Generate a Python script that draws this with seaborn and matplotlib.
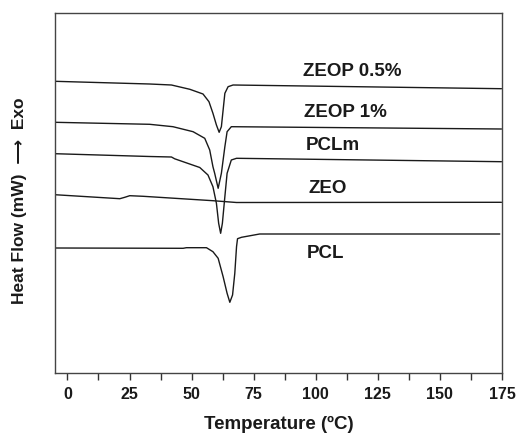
import matplotlib
matplotlib.use("Agg")
import matplotlib.pyplot as plt
import seaborn as sns
import pandas as pd
from matplotlib.ticker import MultipleLocator

# ---- data (temperature in degC, heat flow in arbitrary offset units) ----
zeop05_t = [-5.1, 33.1, 41.9, 49.3, 54.6, 57.0, 58.6, 60.0, 61.1, 62.0, 62.7, 63.4, 64.7, 66.7, 174.8]
zeop05_v = [291.7, 289.0, 288.0, 283.7, 279.0, 271.3, 259.7, 248.0, 240.7, 246.3, 263.0, 279.7, 286.3, 288.0, 284.3]

zeop1_t = [-5.1, 33.1, 42.5, 50.6, 55.3, 57.3, 58.6, 59.3, 60.7, 62.0, 63.4, 64.3, 66.0, 174.8]
zeop1_v = [250.7, 248.7, 246.3, 241.3, 234.7, 223.0, 206.3, 199.7, 184.7, 199.7, 226.3, 241.3, 246.3, 244.0]

pclm_t = [-5.1, 33.1, 41.9, 43.2, 53.3, 56.6, 58.6, 60.0, 60.9, 61.7, 62.4, 63.4, 64.3, 66.0, 68.1, 174.8]
pclm_v = [219.3, 216.5, 216.0, 214.2, 205.5, 198.0, 186.3, 169.7, 149.7, 139.7, 149.7, 176.3, 199.7, 213.0, 214.7, 211.3]

zeo_t = [-5.1, 21.1, 23.1, 25.1, 30.5, 58.6, 68.1, 174.8]
zeo_v = [178.3, 174.3, 175.7, 177.3, 176.7, 172.3, 170.5, 170.7]

pcl_t = [-5.1, 46.6, 47.9, 56.0, 58.6, 60.7, 62.7, 64.3, 65.4, 66.5, 67.4, 68.1, 68.5, 70.1, 77.4, 174.1]
pcl_v = [125.0, 124.7, 125.3, 125.3, 121.3, 114.7, 96.3, 79.7, 70.7, 78.0, 99.7, 126.3, 134.3, 135.7, 139.0, 139.0]

labels = ["ZEOP 0.5%", "ZEOP 1%", "PCLm", "ZEO", "PCL"]
label_t = [94.8, 95.3, 96.0, 97.2, 96.2]
label_v = [301.0, 260.3, 227.0, 184.0, 119.0]

xticks = [0, 25, 50, 75, 100, 125, 150, 175]

series = [
    ("ZEOP 0.5%", zeop05_t, zeop05_v),
    ("ZEOP 1%", zeop1_t, zeop1_v),
    ("PCLm", pclm_t, pclm_v),
    ("ZEO", zeo_t, zeo_v),
    ("PCL", pcl_t, pcl_v),
]
frames = []
for name, t, v in series:
    frames.append(pd.DataFrame({"T": t, "HF": v, "sample": name}))
df = pd.concat(frames, ignore_index=True)

sns.set_theme(style="ticks")
plt.rcParams["font.family"] = ["Liberation Sans", "DejaVu Sans"]
plt.rcParams["font.weight"] = "bold"

fig = plt.figure(figsize=(5.17, 4.33), dpi=100)
ax = fig.add_axes([55 / 517, 60 / 433, 447 / 517, 360 / 433])

sns.lineplot(data=df, x="T", y="HF", units="sample", estimator=None, sort=False,
             color="#1a1a1a", linewidth=1.0, ax=ax, legend=False)

for lab, t, v in zip(labels, label_t, label_v):
    ax.text(t, v, lab, ha="left", va="center", fontsize=13.5, fontweight="bold",
            color="#1a1a1a")

ax.set_xlim(-5, 175)
ax.set_ylim(0, 360)
ax.set_xticks(xticks)
ax.xaxis.set_minor_locator(MultipleLocator(12.5))
ax.set_yticks([])
ax.tick_params(axis="x", which="both", direction="out", length=5, width=1,
               colors="#333333", labelsize=11.5, labelcolor="#1a1a1a", top=False, pad=5)
for lbl in ax.get_xticklabels():
    lbl.set_fontweight("bold")
for sp in ax.spines.values():
    sp.set_visible(True)
    sp.set_color("#444444")
    sp.set_linewidth(1.0)

ax.set_xlabel("Temperature (\u00baC)", fontsize=13.5, fontweight="bold", color="#1a1a1a", labelpad=10)
ax.set_ylabel("Heat Flow (mW)  \u27f6  Exo", fontsize=12.5, fontweight="bold", color="#1a1a1a",
              family=["Liberation Sans", "DejaVu Sans"])
ax.yaxis.set_label_coords(-0.063, 0.478)

fig.savefig("out.png", dpi=100)
